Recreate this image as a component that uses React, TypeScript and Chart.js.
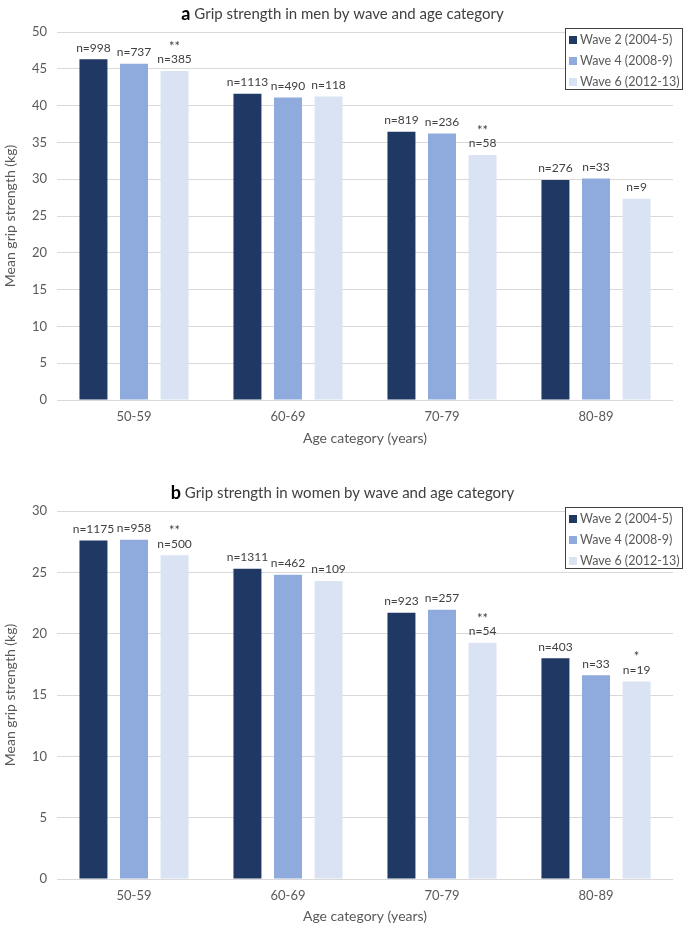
import React, { useEffect, useRef } from "react";
import { Chart, registerables } from "chart.js";

Chart.register(...registerables);

const categories = ["50-59", "60-69", "70-79", "80-89"];
const seriesLabels = ["Wave 2 (2004-5)", "Wave 4 (2008-9)", "Wave 6 (2012-13)"];
const seriesColors = ["#203864", "#8FAADC", "#DAE3F3"];

// Panel a: men
const menWave2 = [46.3, 41.6, 36.45, 29.9];
const menWave4 = [45.7, 41.1, 36.2, 30.1];
const menWave6 = [44.7, 41.25, 33.3, 27.35];
const menNWave2 = [998, 1113, 819, 276];
const menNWave4 = [737, 490, 236, 33];
const menNWave6 = [385, 118, 58, 9];
const menStarsWave6 = ["**", "", "**", ""];
const menYMax = 50;

// Panel b: women
const womenWave2 = [27.6, 25.3, 21.7, 18.0];
const womenWave4 = [27.65, 24.8, 21.95, 16.6];
const womenWave6 = [26.4, 24.3, 19.25, 16.1];
const womenNWave2 = [1175, 1311, 923, 403];
const womenNWave4 = [958, 462, 257, 33];
const womenNWave6 = [500, 109, 54, 19];
const womenStarsWave6 = ["**", "", "**", "*"];
const womenYMax = 30;

const yStep = 5;
const xTitle = "Age category (years)";
const yTitle = "Mean grip strength (kg)";

const FONT = "Lato, 'Open Sans', sans-serif";
const TICK_COLOR = "#595959";

type PanelProps = {
  values: number[][];
  ns: number[][];
  stars: string[][];
  yMax: number;
  letter: string;
  title: string;
  top: number;
  height: number;
  padTop: number;
  xAxisH: number;
  xTitlePadBottom: number;
};

function Panel(p: PanelProps) {
  const ref = useRef<HTMLCanvasElement | null>(null);
  useEffect(() => {
    if (!ref.current) return;
    const overlay = {
      id: "overlay",
      afterDatasetsDraw(chart: any) {
        const ctx = chart.ctx as CanvasRenderingContext2D;
        ctx.save();
        // data labels
        chart.data.datasets.forEach((_ds: any, i: number) => {
          const meta = chart.getDatasetMeta(i);
          meta.data.forEach((bar: any, j: number) => {
            const nY = bar.y - 11.5;
            ctx.font = `12px ${FONT}`;
            ctx.fillStyle = "#404040";
            ctx.textAlign = "center";
            ctx.textBaseline = "middle";
            ctx.fillText("n=" + p.ns[i][j], bar.x, nY);
            const s = p.stars[i][j];
            if (s) {
              ctx.font = `13px ${FONT}`;
              ctx.fillText(s, bar.x, nY - 13);
            }
          });
        });
        // title
        const cx = chart.width / 2;
        const ty = chart.chartArea.top - 18;
        ctx.textBaseline = "middle";
        ctx.textAlign = "left";
        ctx.font = `bold 18px ${FONT}`;
        const wa = ctx.measureText(p.letter).width;
        ctx.font = `15px ${FONT}`;
        const rest = " " + p.title;
        const wr = ctx.measureText(rest).width;
        const sx = cx - (wa + wr) / 2;
        ctx.font = `bold 18px ${FONT}`;
        ctx.fillStyle = "#000000";
        ctx.fillText(p.letter, sx, ty);
        ctx.font = `15px ${FONT}`;
        ctx.fillStyle = "#404040";
        ctx.fillText(rest, sx + wa, ty);
        // legend
        const bx = 565;
        const by = chart.chartArea.top - 4;
        const bw = 117;
        const bh = 61;
        ctx.fillStyle = "#ffffff";
        ctx.fillRect(bx, by, bw, bh);
        ctx.strokeStyle = "#404040";
        ctx.lineWidth = 1;
        ctx.strokeRect(bx + 0.5, by + 0.5, bw, bh);
        ctx.font = `12.5px ${FONT}`;
        ctx.textAlign = "left";
        ctx.textBaseline = "middle";
        seriesLabels.forEach((lab, k) => {
          const iy = by + 12 + k * 21;
          ctx.fillStyle = seriesColors[k];
          ctx.fillRect(bx + 4, iy - 4, 8, 8);
          ctx.fillStyle = TICK_COLOR;
          ctx.fillText(lab, bx + 15, iy);
        });
        ctx.restore();
      },
    };
    const chart = new Chart(ref.current, {
      type: "bar",
      data: {
        labels: categories,
        datasets: p.values.map((vals, i) => ({
          label: seriesLabels[i],
          data: vals,
          backgroundColor: seriesColors[i],
          borderWidth: 0,
          categoryPercentage: 0.79,
          barPercentage: 0.69,
        })),
      },
      options: {
        animation: false,
        responsive: false,
        maintainAspectRatio: false,
        layout: { padding: { top: p.padTop, right: 12, left: 0, bottom: 0 } },
        plugins: {
          legend: { display: false },
          tooltip: { enabled: false },
          title: { display: false },
        },
        scales: {
          x: {
            grid: { display: false, drawTicks: false },
            border: { display: false },
            ticks: { color: TICK_COLOR, font: { family: FONT, size: 13 }, padding: 9 },
            title: {
              display: true,
              text: xTitle,
              color: TICK_COLOR,
              font: { family: FONT, size: 14 },
              padding: { top: 0, bottom: p.xTitlePadBottom },
            },
            afterFit: (scale: any) => {
              scale.height = p.xAxisH;
            },
          },
          y: {
            min: 0,
            max: p.yMax,
            grid: { color: "#D9D9D9", drawTicks: false, lineWidth: 1 },
            border: { display: false },
            ticks: {
              stepSize: yStep,
              color: TICK_COLOR,
              font: { family: FONT, size: 13 },
              padding: 10,
            },
            title: {
              display: true,
              text: yTitle,
              color: TICK_COLOR,
              font: { family: FONT, size: 14 },
              padding: { top: 2, bottom: 0 },
            },
            afterFit: (scale: any) => {
              scale.width = 57;
            },
          },
        },
      },
      plugins: [overlay],
    });
    return () => chart.destroy();
  }, []);
  return (
    <canvas
      ref={ref}
      width={685}
      height={p.height}
      style={{ position: "absolute", left: 0, top: p.top, width: 685, height: p.height }}
    />
  );
}

export default function App() {
  return (
    <div style={{ position: "absolute", left: 0, top: 0, width: 685, height: 926, background: "#fff" }}>
      <Panel
        values={[menWave2, menWave4, menWave6]}
        ns={[menNWave2, menNWave4, menNWave6]}
        stars={[["", "", "", ""], ["", "", "", ""], menStarsWave6]}
        yMax={menYMax}
        letter="a"
        title="Grip strength in men by wave and age category"
        top={0}
        height={452}
        padTop={32}
        xAxisH={52}
        xTitlePadBottom={5}
      />
      <Panel
        values={[womenWave2, womenWave4, womenWave6]}
        ns={[womenNWave2, womenNWave4, womenNWave6]}
        stars={[["", "", "", ""], ["", "", "", ""], womenStarsWave6]}
        yMax={womenYMax}
        letter="b"
        title="Grip strength in women by wave and age category"
        top={478}
        height={448}
        padTop={33}
        xAxisH={47}
        xTitlePadBottom={1}
      />
    </div>
  );
}
